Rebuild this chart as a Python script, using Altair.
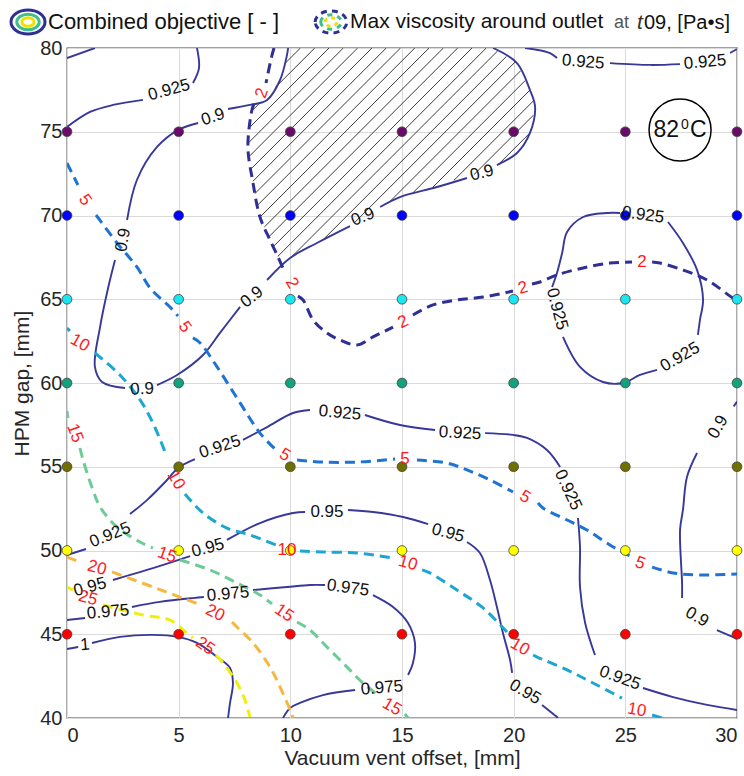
import altair as alt
import numpy as np
import pandas as pd

FONT = "Liberation Sans"

# ---------------- sample grid (markers) ----------------
X_GRID = [0, 5, 10, 15, 20, 25, 30]
Y_GRID = [45, 50, 55, 60, 65, 70, 75]
ROW_COLORS = ["#ff0000", "#ffff00", "#707000", "#12a27e", "#19e6f0", "#0000ff", "#6b0a6b"]

# ---------------- combined objective contours (segments break at labels) ----------------
OBJ_LINES = [
    [[(0, 75.28), (1.03, 76.18), (2.06, 76.60), (3.40, 76.90)],
     [(5.64, 77.91), (5.91, 78.80), (5.82, 80)]],
    [[(0, 79.40), (1.25, 80)]],
    [[(9.90, 80), (9.85, 79.58), (9.54, 78.09), (8.96, 76.90), (8.19, 76.60), (7.21, 76.36)],
     [(5.87, 75.52), (4.97, 75.10), (4.03, 74.09), (3.13, 72.12), (2.69, 69.73)],
     [(2.15, 67.34), (1.84, 65.67), (1.48, 63.34), (1.25, 60.96), (1.57, 60.06), (2.60, 59.70)],
     [(4.03, 59.88), (4.93, 60.48), (6.09, 61.67), (6.85, 62.99), (7.75, 64.54)],
     [(8.96, 66.15), (9.99, 67.46), (11.19, 68.36), (12.67, 69.37)],
     [(14.02, 70.51), (14.91, 71.10), (16.57, 71.70), (17.91, 72.24)],
     [(19.25, 73.01), (20.15, 73.73), (20.73, 74.93), (20.96, 76.48), (20.73, 77.49), (20.15, 79.10), (19.08, 80)]],
    [[(20.51, 80), (21.63, 79.70), (21.94, 79.40)],
     [(24.31, 79.10), (26.11, 78.99), (27.45, 79.04)],
     [(29.69, 79.70), (30, 79.94)]],
    [[(26.91, 69.61), (27.58, 68.36), (28.21, 66.75), (28.48, 64.96), (28.34, 63.76), (28.25, 62.87)],
     [(26.42, 60.78), (25.66, 60.48), (24.90, 60.00), (24.00, 60.06), (22.97, 60.96), (22.21, 62.75)],
     [(21.72, 65.73), (21.94, 66.57), (22.17, 67.76), (22.39, 69.01), (23.11, 69.91), (24.18, 70.15), (24.76, 70.15)]],
    [[(0, 49.73), (0.85, 50.09)],
     [(2.82, 52.18), (3.58, 53.01), (4.48, 54.21), (4.97, 54.93), (5.73, 55.46)],
     [(7.88, 56.60), (8.96, 57.37), (10.12, 58.21), (10.88, 58.39)],
     [(13.34, 58.09), (14.91, 57.49), (16.48, 57.19)],
     [(18.72, 57.01), (19.97, 56.90), (20.60, 56.72), (21.49, 56.00), (22.08, 54.99)],
     [(22.88, 51.94), (22.97, 50.21), (22.97, 47.82), (23.20, 45.67), (23.64, 43.76)],
     [(25.79, 41.79), (27.14, 41.25), (28.66, 40.78), (30, 40.48)]],
    [[(30, 58.9), (29.85, 58.6)],
     [(28.21, 55.82), (27.76, 54.39), (27.58, 52.42), (27.45, 51.22), (27.54, 48.06), (27.54, 47.16)],
     [(29.10, 45.25), (29.91, 44.78), (30, 44.72)]],
    [[(2.06, 48.24), (3.58, 48.84), (4.97, 49.43), (5.51, 49.67)],
     [(7.16, 50.63), (8.64, 51.64), (10.12, 52.24), (10.66, 52.30)],
     [(12.58, 52.42), (13.70, 52.30), (15.05, 52.00), (16.17, 51.58)],
     [(17.91, 50.51), (18.49, 49.85), (18.94, 48.24), (19.25, 46.63), (19.52, 45.07), (19.84, 43.46), (19.93, 42.69)],
     [(21.27, 40.78), (21.94, 40.06), (21.99, 40)]],
    [[(0, 45.85), (0.81, 45.97)],
     [(2.91, 46.63), (4.16, 46.93), (5.64, 47.16), (6.13, 47.22)],
     [(8.33, 47.64), (9.85, 47.82), (10.88, 47.94), (11.55, 47.94)],
     [(13.70, 47.34), (14.60, 46.63), (15.27, 45.67), (15.58, 44.48), (15.49, 43.28), (15.27, 42.57)],
     [(12.90, 41.67), (11.46, 41.37), (10.43, 40.90), (9.99, 40.60), (9.67, 40)]],
    [[(0, 44.12), (0.50, 44.24)],
     [(1.12, 44.48), (2.37, 44.84), (3.85, 44.96), (4.97, 44.84), (5.82, 44.48), (6.72, 43.64),
      (7.30, 42.99), (7.43, 42.09), (7.30, 40.90), (7.21, 40)]],
]

OBJ_LABELS = [
    (4.57, 77.49, "0.925", -15), (6.54, 75.88, "0.9", -18), (2.51, 68.54, "0.9", -80),
    (3.36, 59.64, "0.9", -3), (8.28, 65.13, "0.9", -38), (13.25, 69.91, "0.9", -22),
    (18.58, 72.54, "0.9", -15), (23.11, 79.16, "0.925", 5), (28.57, 79.16, "0.925", -5),
    (25.79, 70.03, "0.925", 8), (27.45, 61.55, "0.925", -30), (21.94, 64.42, "0.925", 75),
    (1.93, 50.93, "0.925", -22), (6.85, 56.18, "0.925", -18), (12.22, 58.21, "0.925", 5),
    (17.60, 57.01, "0.925", 3), (22.43, 53.61, "0.925", 65), (24.76, 42.39, "0.925", 20),
    (29.15, 57.37, "0.9", -60), (28.21, 46.03, "0.9", 30), (1.03, 47.82, "0.95", -15),
    (6.31, 50.15, "0.95", -15), (11.64, 52.30, "0.95", 0), (17.06, 51.04, "0.95", 15),
    (20.51, 41.55, "0.95", 30), (1.84, 46.33, "0.975", -5), (7.21, 47.40, "0.975", -5),
    (12.58, 47.76, "0.975", 8), (14.10, 41.79, "0.975", -5), (0.81, 44.36, "1", -5),
]

# ---------------- max viscosity contours ----------------
VISC_LEVELS = ["2", "5", "10", "15", "20", "25"]
VISC_COLORS = ["#2f2f96", "#1f73d3", "#1ca6d2", "#6ecb97", "#f7b63c", "#f2ee08"]
VISC_LINES = {
    "2": [[(9.27, 80), (9.18, 79.58), (8.91, 77.91)],
          [(8.37, 76.66), (8.28, 76.30), (8.10, 74.09), (8.33, 71.94), (8.64, 69.91), (9.09, 68.54), (9.45, 67.52), (9.67, 66.87)],
          [(10.34, 65.19), (10.57, 64.96), (11.02, 63.76), (11.64, 62.99), (12.22, 62.57), (12.99, 62.27), (13.70, 62.75), (14.60, 63.34)],
          [(15.49, 64.06), (16.39, 64.66), (17.46, 64.96), (18.63, 65.13), (19.97, 65.49)],
          [(20.82, 65.91), (21.18, 66.03), (21.94, 66.45), (23.11, 66.87), (24.31, 67.16), (25.30, 67.22)],
          [(26.20, 67.22), (26.55, 67.16), (27.58, 66.75), (28.66, 66.15), (29.82, 65.07), (30, 64.96)]],
    "5": [[(0, 73.13), (0.49, 71.82)],
          [(1.30, 70.03), (2.24, 68.36), (3.13, 66.93), (3.72, 65.67), (4.61, 64.54), (4.97, 64.0)],
          [(5.64, 62.69), (5.96, 62.39), (6.72, 60.96), (7.75, 58.81), (8.64, 57.01), (9.31, 56.06)],
          [(10.30, 55.40), (11.46, 55.28), (12.99, 55.28), (14.69, 55.46)],
          [(15.67, 55.40), (17.02, 55.22), (17.91, 54.81), (18.94, 54.21), (19.97, 53.49)],
          [(21.09, 52.84), (21.31, 52.54), (22.39, 51.82), (23.28, 51.22), (24.31, 50.33), (25.21, 49.67)],
          [(26.20, 49.01), (27.14, 48.66), (28.34, 48.54), (30, 48.60)]],
    "10": [[(0, 63.28), (0.13, 63.10)],
           [(1.25, 61.79), (2.37, 60.48), (3.27, 58.99), (3.85, 57.61), (4.39, 55.88)],
           [(5.28, 53.37), (6.09, 52.24), (7.16, 51.34), (8.19, 50.93), (9.36, 50.33)],
           [(10.43, 49.97), (11.46, 49.91), (12.99, 49.85), (14.60, 49.55)],
           [(15.90, 48.84), (16.25, 48.66), (17.46, 47.64), (18.63, 46.57), (19.70, 45.13)],
           [(20.87, 43.76), (21.05, 43.64), (22.39, 42.87), (23.55, 42.09), (24.85, 41.19)],
           [(26.20, 40.18), (26.64, 40)]],
    "15": [[(0, 58.33), (0.04, 57.91)],
           [(0.58, 56.12), (0.72, 55.40), (1.16, 53.61), (1.48, 52.60), (2.24, 51.40), (3.27, 50.51), (3.85, 50.15)],
           [(5.06, 49.43), (6.40, 48.84), (7.61, 48.06), (8.64, 47.34), (9.18, 46.81)],
           [(10.30, 45.73), (10.88, 45.25), (11.64, 44.24), (12.54, 43.04), (13.25, 42.09), (13.93, 41.37)],
           [(15.13, 40.24), (15.27, 40)]],
    "20": [[(0, 49.61), (0.58, 49.31)],
           [(2.02, 48.72), (3.85, 47.82), (5.06, 47.22), (5.87, 46.81)],
           [(7.39, 45.73), (7.61, 45.43), (8.33, 44.48), (9.09, 43.04), (9.54, 41.85), (9.99, 40.48), (10.12, 40)]],
    "25": [[(0, 47.82), (0.27, 47.64)],
           [(1.61, 46.75), (3.40, 46.15), (4.61, 45.85), (5.37, 45.07), (5.64, 44.78)],
           [(6.67, 43.76), (6.99, 43.28), (7.61, 42.09), (7.97, 41.07), (8.19, 40.06)]],
}

VISC_LABELS = [
    (8.73, 77.31, "2", -70), (10.07, 65.97, "2", 60), (15.05, 63.64, "2", -25),
    (20.42, 65.67, "2", -15), (25.75, 67.22, "2", 0),
    (0.81, 70.93, "5", 55), (5.28, 63.34, "5", 55), (9.76, 55.70, "5", 30),
    (15.13, 55.46, "5", 0), (20.51, 53.19, "5", 30), (25.66, 49.25, "5", 20),
    (0.58, 62.39, "10", 30), (4.88, 54.21, "10", 60), (9.85, 50.03, "10", 0),
    (15.27, 49.25, "10", 15), (20.28, 44.24, "10", 30), (25.52, 40.48, "10", 10),
    (0.36, 57.01, "15", 70), (4.48, 49.73, "15", 20), (9.72, 46.27, "15", 35),
    (14.55, 40.66, "15", 30),
    (1.34, 48.96, "20", 15), (6.63, 46.27, "20", 25),
    (0.94, 47.16, "25", 15), (6.18, 44.30, "25", 35),
]

# hatched feasible region (inside 0.9 lobe and right of the 2 Pa*s line)
HATCH_POLY = [(9.90, 80), (19.08, 80), (20.15, 79.10), (20.73, 77.49), (20.96, 76.48), (20.73, 74.93),
              (20.15, 73.73), (19.30, 73.01), (18.58, 72.54), (17.73, 72.30), (16.57, 71.70), (14.91, 71.10),
              (14.02, 70.51), (12.67, 69.43), (11.19, 68.36), (9.99, 67.46), (9.67, 67.04), (9.45, 67.52),
              (9.09, 68.54), (8.64, 69.91), (8.33, 71.94), (8.10, 74.09), (8.28, 76.30), (8.33, 76.66),
              (8.96, 76.90), (9.54, 78.09), (9.85, 79.58)]

ANNOT = {"cx": 27.45, "cy": 75.10}

# ---------------- build tables ----------------
def seg_table(groups, key):
    rows = []
    sid = 0
    for g, segs in groups:
        for seg in segs:
            for i, (x, y) in enumerate(seg):
                rows.append({"x": x, "y": y, "seg": f"{key}{sid}", "i": i, "level": g})
            sid += 1
    return pd.DataFrame(rows)

obj_df = seg_table([("obj", s) for s in OBJ_LINES], "o")
visc_df = seg_table([(lv, VISC_LINES[lv]) for lv in VISC_LEVELS], "v")

obj_lab = pd.DataFrame(OBJ_LABELS, columns=["x", "y", "t", "a"])
obj_lab["a"] = obj_lab["a"] % 360
visc_lab = pd.DataFrame(VISC_LABELS, columns=["x", "y", "t", "a"])
visc_lab["a"] = visc_lab["a"] % 360

pts = pd.DataFrame([{"x": x, "y": y, "row": str(y)} for y in Y_GRID for x in X_GRID])


def hatch_lines(poly, k=1.333, dx=0.64):
    P = np.array(poly + [poly[0]], dtype=float)
    f = P[:, 1] - k * P[:, 0]
    dc = k * dx
    out = []
    c = f.min() + dc / 2
    while c < f.max():
        xs = []
        for j in range(len(P) - 1):
            f1, f2 = f[j] - c, f[j + 1] - c
            if (f1 < 0) != (f2 < 0):
                t = f1 / (f1 - f2)
                xs.append(P[j, 0] + t * (P[j + 1, 0] - P[j, 0]))
        xs.sort()
        for a, b in zip(xs[0::2], xs[1::2]):
            out.append({"x": a, "y": k * a + c, "x2": b, "y2": k * b + c})
        c += dc
    return pd.DataFrame(out)

hatch_df = hatch_lines(HATCH_POLY)

X = alt.X("x:Q", scale=alt.Scale(domain=[0, 30], nice=False, zero=False),
          axis=alt.Axis(values=X_GRID, title="Vacuum vent offset, [mm]", ticks=False,
                        labelPadding=7, titleY=40, titleBaseline="middle"))
Y = alt.Y("y:Q", scale=alt.Scale(domain=[40, 80], nice=False, zero=False),
          axis=alt.Axis(values=[40, 45, 50, 55, 60, 65, 70, 75, 80], title="HPM gap, [mm]", ticks=False,
                        labelPadding=5, titleX=-45, titleY=335, titleAngle=-90,
                        titleBaseline="middle", titleAlign="center"))

hatch = alt.Chart(hatch_df).mark_rule(color="#222222", strokeWidth=0.9, clip=True).encode(
    x=X, y=Y, x2="x2:Q", y2="y2:Q")

obj_lines = alt.Chart(obj_df).mark_line(color="#38389a", strokeWidth=1.9, clip=True,
                                        interpolate="catmull-rom").encode(
    x=X, y=Y, detail="seg:N", order="i:Q")

visc_lines = alt.Chart(visc_df).mark_line(strokeWidth=3, strokeDash=[10, 6], clip=True,
                                          interpolate="catmull-rom").encode(
    x=X, y=Y, detail="seg:N", order="i:Q",
    color=alt.Color("level:N", scale=alt.Scale(domain=VISC_LEVELS, range=VISC_COLORS), legend=None))

points = alt.Chart(pts).mark_point(filled=True, shape="circle", size=95, stroke="#404040",
                                   strokeWidth=0.8, opacity=1).encode(
    x=X, y=Y,
    fill=alt.Fill("row:N", scale=alt.Scale(domain=[str(v) for v in Y_GRID], range=ROW_COLORS), legend=None))

obj_text = alt.Chart(obj_lab).mark_text(font=FONT, fontSize=17, color="#111111",
                                        align="center", baseline="middle").encode(
    x=X, y=Y, text="t:N", angle=alt.Angle("a:Q", scale=None))

visc_text = alt.Chart(visc_lab).mark_text(font=FONT, fontSize=17, color="#ff1a1a",
                                          align="center", baseline="middle").encode(
    x=X, y=Y, text="t:N", angle=alt.Angle("a:Q", scale=None))

ann_df = pd.DataFrame([{"x": ANNOT["cx"], "y": ANNOT["cy"]}])
ann_circle = alt.Chart(ann_df).mark_point(shape="circle", size=3844, filled=False, color="black",
                                          strokeWidth=1.5, opacity=1).encode(x=X, y=Y)
ann_82 = alt.Chart(ann_df).mark_text(text="82", font=FONT, fontSize=23, color="#111",
                                     align="right", baseline="middle", dx=-1).encode(x=X, y=Y)
ann_0 = alt.Chart(ann_df).mark_text(text="0", font=FONT, fontSize=14, color="#111",
                                    align="left", baseline="middle", dx=1, dy=-5).encode(x=X, y=Y)
ann_C = alt.Chart(ann_df).mark_text(text="C", font=FONT, fontSize=23, color="#111",
                                    align="left", baseline="middle", dx=10).encode(x=X, y=Y)

# ---------------- legend (above plot) ----------------
one = pd.DataFrame({"a": [0]})
ELL = "M -1 0 A 1 0.7 0 1 1 1 0 A 1 0.7 0 1 1 -1 0 Z"
leg = [
    alt.Chart(one).mark_point(shape=ELL, size=1156, filled=False, color="#2e3192", strokeWidth=3, opacity=1)
    .encode(x=alt.value(-39), y=alt.value(-26)),
    alt.Chart(one).mark_point(shape=ELL, size=500, filled=False, color="#3cc08a", strokeWidth=3, opacity=1)
    .encode(x=alt.value(-39), y=alt.value(-26)),
    alt.Chart(one).mark_point(shape=ELL, size=150, filled=False, color="#f0e000", strokeWidth=3, opacity=1)
    .encode(x=alt.value(-39), y=alt.value(-26)),
    alt.Chart(one).mark_text(text="Combined objective [ - ]", font=FONT, fontSize=22, color="#111",
                             align="left", baseline="middle").encode(x=alt.value(-19), y=alt.value(-26)),
    alt.Chart(one).mark_point(shape=ELL, size=1000, filled=False, color="#2e3192", strokeWidth=3,
                              strokeDash=[6, 5], opacity=1).encode(x=alt.value(264), y=alt.value(-26)),
    alt.Chart(one).mark_point(shape=ELL, size=420, filled=False, color="#3cc08a", strokeWidth=3,
                              strokeDash=[5, 5], opacity=1).encode(x=alt.value(264), y=alt.value(-26)),
    alt.Chart(one).mark_point(shape=ELL, size=140, filled=False, color="#f0e000", strokeWidth=3,
                              strokeDash=[4, 4], opacity=1).encode(x=alt.value(264), y=alt.value(-26)),
    alt.Chart(one).mark_text(text="Max viscosity around outlet", font=FONT, fontSize=21, color="#111",
                             align="left", baseline="middle").encode(x=alt.value(283), y=alt.value(-26)),
    alt.Chart(one).mark_text(text="at", font=FONT, fontSize=18, color="#555",
                             align="left", baseline="middle").encode(x=alt.value(547), y=alt.value(-25)),
    alt.Chart(one).mark_text(text="t", font=FONT, fontSize=21, fontStyle="italic", color="#333",
                             align="left", baseline="middle").encode(x=alt.value(570), y=alt.value(-25)),
    alt.Chart(one).mark_text(text="09, [Pa•s]", font=FONT, fontSize=20, color="#111",
                             align="left", baseline="middle").encode(x=alt.value(577), y=alt.value(-25)),
]

chart = alt.layer(
    hatch, obj_lines, visc_lines, points, obj_text, visc_text,
    ann_circle, ann_82, ann_0, ann_C, *leg
).properties(
    width=670, height=670,
    autosize=alt.AutoSizeParams(type="none"),
    padding={"left": 67, "top": 48, "right": 7, "bottom": 58},
).configure_view(
    stroke="#444444", strokeWidth=1.3
).configure_axis(
    grid=True, gridColor="#dadada", gridWidth=1, domain=False,
    labelFont=FONT, titleFont=FONT, labelFontSize=20, titleFontSize=21,
    labelColor="#262626", titleColor="#262626", titleFontWeight="normal"
)

chart.save("out.html", embed_options={"renderer": "svg", "actions": False})
